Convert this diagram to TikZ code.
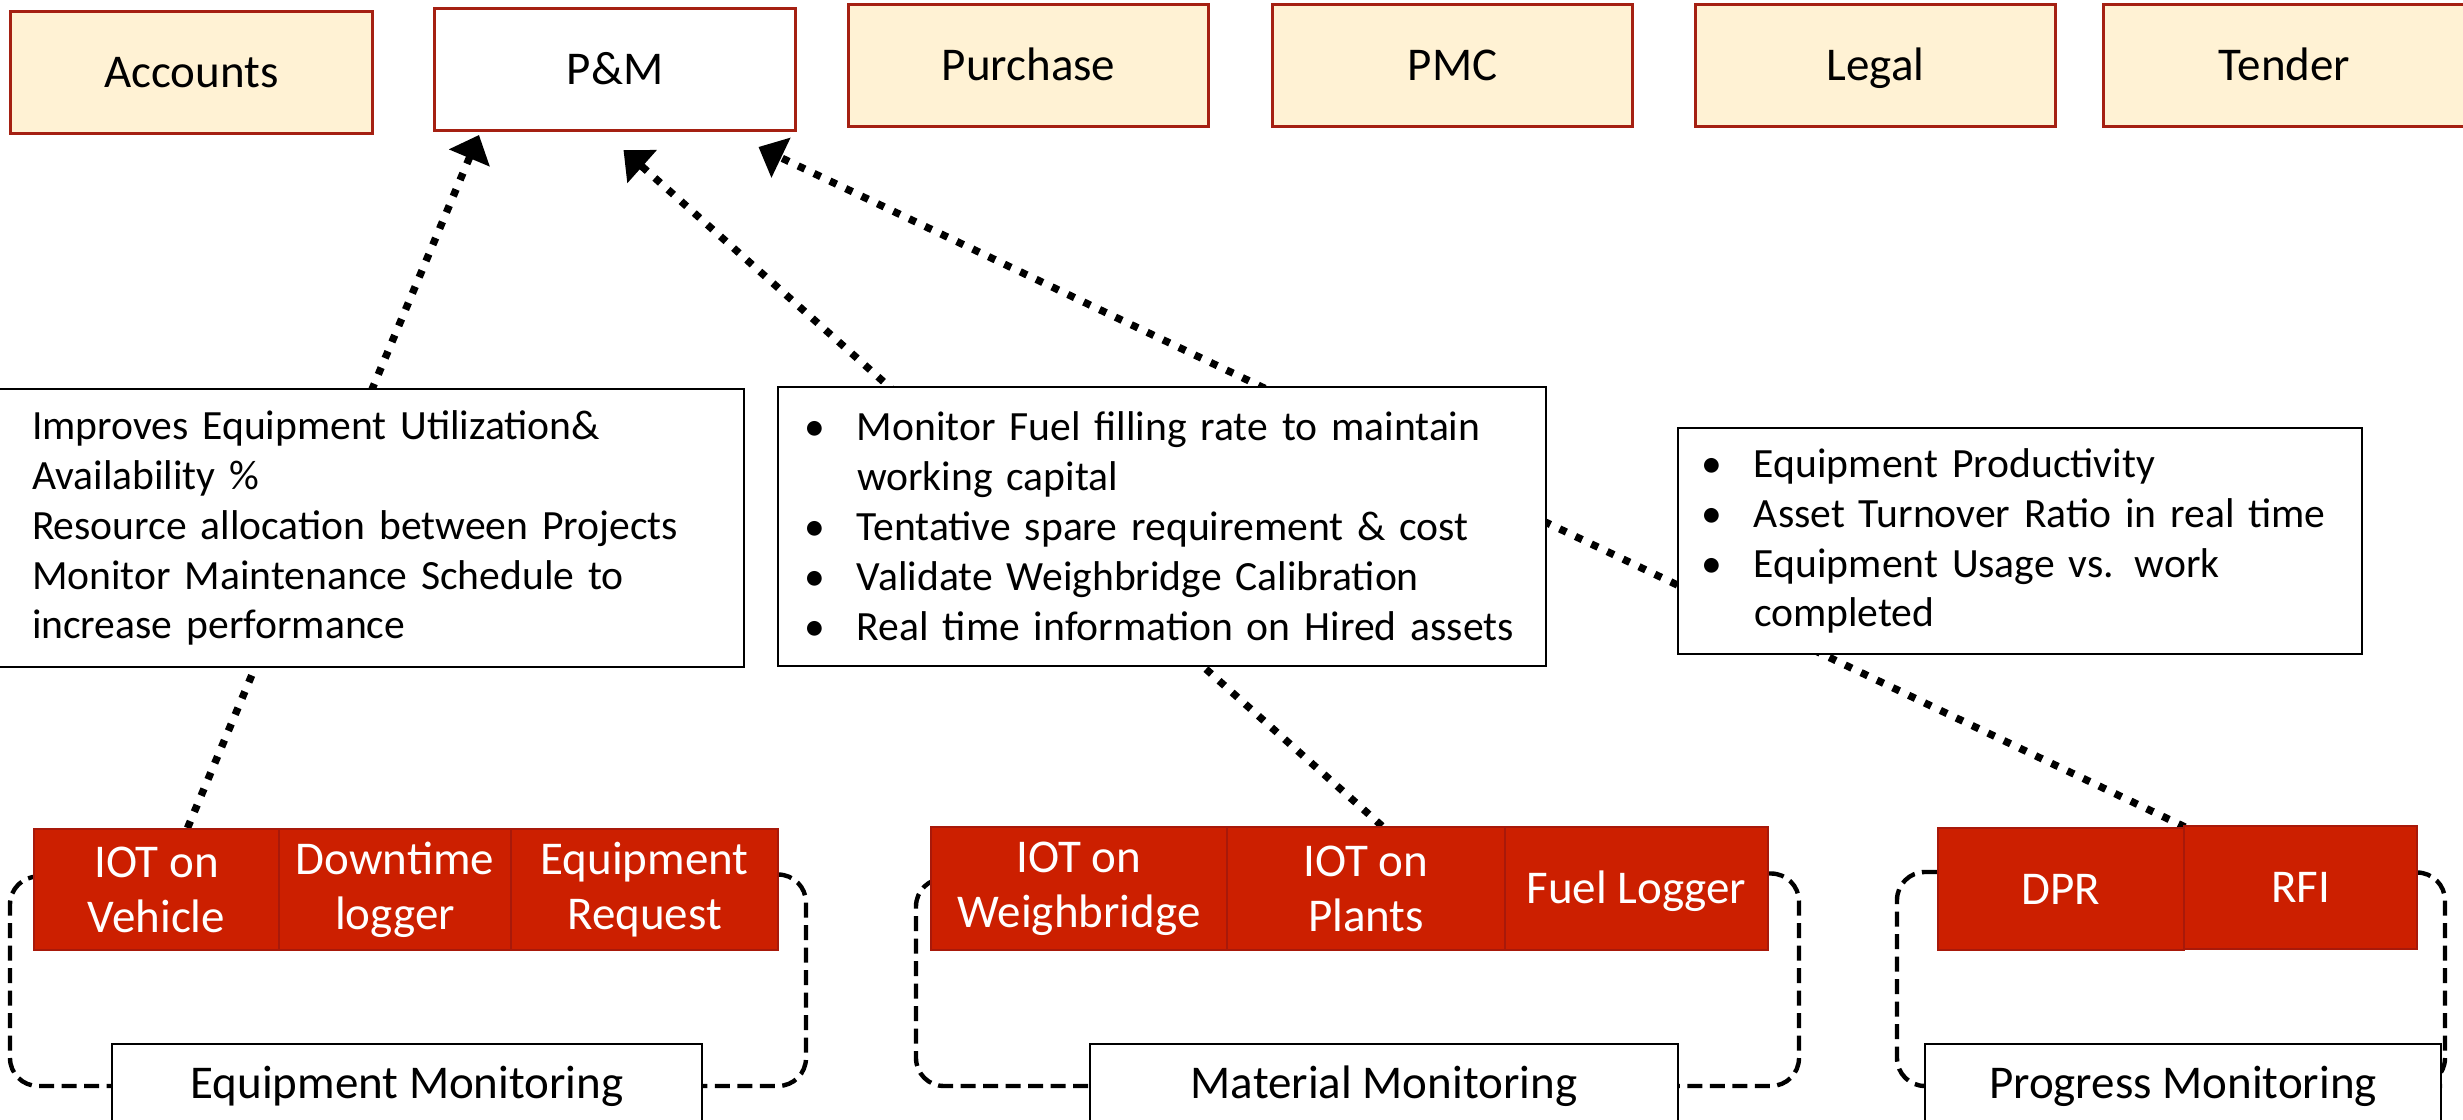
\documentclass[tikz,border=0pt]{standalone}
\usepackage{fontspec}
\setmainfont{Carlito}
\usetikzlibrary{arrows.meta,backgrounds}
\newdimen\pxu \pxu=0.2845pt
\definecolor{deptfill}{HTML}{FFF2D4}
\definecolor{deptline}{HTML}{A52012}
\definecolor{srcfill}{HTML}{CC1F00}
\definecolor{srcline}{HTML}{A8190A}
\newcommand{\bul}{\makebox[53\pxu][l]{\textbullet}}
\newcommand{\cont}{\hspace*{53\pxu}}

\begin{document}
\begin{tikzpicture}[x=0.2845pt, y=-0.2845pt,
  oneline/.style={text height=8.6pt, text depth=0pt},
  dept/.style={draw=deptline, line width=0.85pt, fill=deptfill, anchor=north west,
    minimum width=360\pxu, minimum height=122\pxu, inner sep=0pt, oneline,
    font=\fontsize{13.37}{16}\selectfont},
  note/.style={draw=black, line width=0.57pt, fill=white, anchor=north west,
    align=left, inner ysep=0pt, font=\fontsize{11.84}{14.2}\selectfont},
  src/.style={draw=srcline, line width=0.57pt, fill=srcfill, text=white,
    anchor=north west, inner sep=0pt, align=center,
    font=\fontsize{13.37}{15.65}\selectfont},
  mon/.style={draw=black, line width=0.57pt, fill=white, anchor=north west,
    minimum height=84\pxu, inner sep=0pt, font=\fontsize{13.37}{16}\selectfont},
  conn/.style={line width=2.1pt, dash pattern=on 2.1pt off 2.9pt,
    -{Triangle[length=7.1pt,width=12.2pt]}},
  ringline/.style={line width=1.25pt, dash pattern=on 4.3pt off 2.1pt,
    rounded corners=7.97pt}]
\useasboundingbox (0,0) rectangle (2463,1120);

% departments
\node[dept, minimum width=362\pxu] (acc) at (9,10) {Accounts};
\node[dept, fill=white, minimum width=361\pxu] (pmb) at (433,7) {P\&M};
\node[dept] (pur) at (847,3) {Purchase};
\node[dept] (pmc) at (1271,3) {PMC};
\node[dept] (leg) at (1694,3) {Legal};
\node[dept, minimum width=362\pxu] (ten) at (2102,3) {Tender};

% benefit notes
\node[note, inner xsep=33\pxu, text width=679\pxu, minimum height=278\pxu] (fx) at (-2,388)
  {Improves Equipment Utilization\&\\ Availability \%\\ Resource allocation between Projects\\
   Monitor Maintenance Schedule to\\ increase performance};
\node[note, inner xsep=26\pxu, text width=716\pxu, minimum height=279\pxu] (fm) at (777,386)
  {\bul Monitor Fuel filling rate to maintain\\ \cont working capital\\
   \bul Tentative spare requirement \& cost\\ \bul Validate Weighbridge Calibration\\
   \bul Real time information on Hired assets};
\node[note, inner xsep=23\pxu, text width=638\pxu, minimum height=226\pxu] (fp) at (1677,427)
  {\bul Equipment Productivity\\ \bul Asset Turnover Ratio in real time\\
   \bul Equipment Usage vs. work\\ \cont completed};

% data sources
\node[src, minimum width=245\pxu, minimum height=121\pxu] (veh) at (33,828) {IOT on\\ Vehicle};
\node[src, minimum width=232\pxu, minimum height=121\pxu] (dwn) at (278,828) {Downtime\\ logger};
\node[src, minimum width=267\pxu, minimum height=121\pxu] (req) at (510,828) {Equipment\\ Request};

\node[src, minimum width=296\pxu, minimum height=123\pxu] (wb) at (930,826) {IOT on\\ Weighbridge};
\node[src, minimum width=278\pxu, minimum height=123\pxu] (plt) at (1226,826) {IOT on\\ Plants};
\node[src, oneline, minimum width=263\pxu, minimum height=123\pxu] (fuel) at (1504,826) {Fuel Logger};

\node[src, oneline, minimum width=246\pxu, minimum height=122\pxu] (dpr) at (1937,827) {DPR};
\node[src, oneline, minimum width=233\pxu, minimum height=123\pxu] (rfi) at (2183,825) {RFI};

% monitoring groups
\node[mon, minimum width=590\pxu] (em) at (111,1043) {Equipment Monitoring};
\node[mon, minimum width=588\pxu] (mm) at (1089,1043) {Material Monitoring};
\node[mon, minimum width=516\pxu] (pg) at (1924,1043) {Progress Monitoring};

\begin{pgfonlayer}{background}
  % flows up to P&M
  \draw[conn] ([shift={(31,0)}]veh.north) -- ([shift={(-136,3)}]pmb.south);
  \draw[conn] ([shift={(16,0)}]plt.north) -- ([shift={(8.5,18)}]pmb.south);
  \draw[conn] (dpr.north east) -- ([shift={(143.5,15)}]pmb.south);

  % group outlines
  \draw[ringline] ([shift={(0,-13)}]veh.west) -| ([shift={(-101,0)}]em.west) -- (em.west);
  \draw[ringline] ([shift={(0,-15)}]req.east) -| ([shift={(103,0)}]em.east) -- (em.east);
  \draw[ringline] ([shift={(0,-10)}]wb.west) -| ([shift={(-173,0)}]mm.west) -- (mm.west);
  \draw[ringline] ([shift={(0,-15)}]fuel.east) -| ([shift={(120,0)}]mm.east) -- (mm.east);
  \draw[ringline] ([shift={(0,-17)}]dpr.west) -| ([shift={(-27,0)}]pg.west) -- (pg.west);
  \draw[ringline] ([shift={(0,-15)}]rfi.east) -| ([shift={(3,0)}]pg.east) -- (pg.east);
\end{pgfonlayer}
\end{tikzpicture}
\end{document}
